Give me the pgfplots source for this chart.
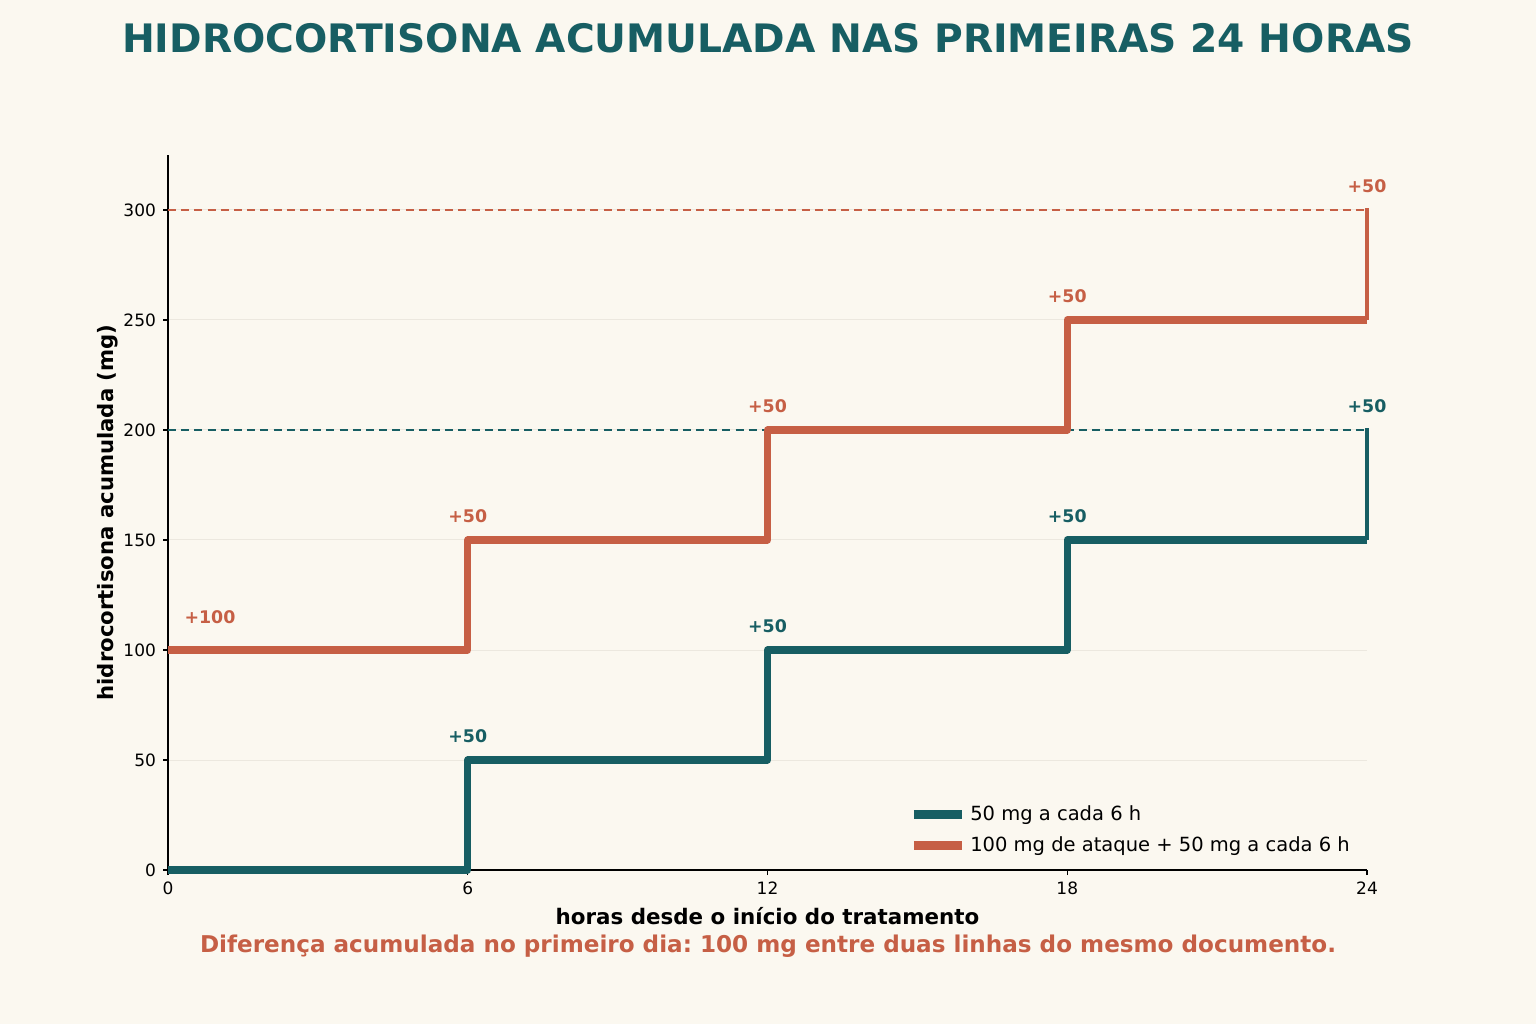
\documentclass[border=0pt]{standalone}
\usepackage{pgfplots}
\pgfplotsset{compat=1.18}
\usepackage{fontspec}
\setmainfont{DejaVu Sans}
\frenchspacing
\definecolor{bg}{HTML}{FBF8F0}
\definecolor{teal}{HTML}{175E63}
\definecolor{orng}{HTML}{C65F45}
\definecolor{gridc}{HTML}{ECE8DF}
\begin{document}
\begin{tikzpicture}[x=1pt,y=1pt]
\path[fill=bg] (0,0) rectangle (768,512);
\node[font=\fontsize{19.6}{24}\selectfont\bfseries, text=teal] at (384,493) {HIDROCORTISONA ACUMULADA NAS PRIMEIRAS 24 HORAS};
\begin{axis}[
  at={(84pt,77pt)}, anchor=south west,
  scale only axis, width=599.5pt, height=357.5pt,
  xmin=0, xmax=24, ymin=0, ymax=325,
  xtick={0,6,12,18,24}, ytick={0,50,100,150,200,250,300},
  axis x line*=bottom, axis y line*=left,
  axis line style={line width=0.6pt, black},
  tick align=outside, major tick length=2.5pt,
  tick style={line width=0.6pt, black},
  ymajorgrids, grid style={line width=0.5pt, gridc},
  /pgf/number format/assume math mode=true,
  ticklabel style={font=\fontsize{8.5}{10}\selectfont},
  xlabel={\bfseries horas desde o início do tratamento},
  ylabel={\bfseries hidrocortisona acumulada (mg)},
  xlabel style={font=\fontsize{10.7}{12}\selectfont, at={(0.5,0)}, anchor=north, yshift=-15pt},
  ylabel style={font=\fontsize{10.6}{12}\selectfont, yshift=-4pt},
  legend style={at={(0.986,0.01)}, anchor=south east, xshift=5pt, draw=none, fill=none,
    font=\fontsize{9.75}{11}\selectfont, row sep=2.5pt},
  legend cell align=left,
  clip=false,
]
\addplot[forget plot, teal, line width=1pt, dash pattern=on 4pt off 2.6pt] coordinates {(0,200) (24,200)};
\addplot[forget plot, orng, line width=1pt, dash pattern=on 4pt off 2.6pt] coordinates {(0,300) (24,300)};
\addplot[teal, line width=3.6pt, line join=round, const plot,
  legend image code/.code={\draw[line width=4.5pt] (0pt,0pt) -- (24pt,0pt);}]
  coordinates {(0,0) (6,50) (12,100) (18,150) (24,150)};
\addlegendentry{50 mg a cada 6 h}
\addplot[orng, line width=3.6pt, line join=round, const plot,
  legend image code/.code={\draw[line width=4.5pt] (0pt,0pt) -- (24pt,0pt);}]
  coordinates {(0,100) (6,150) (12,200) (18,250) (24,250)};
\addlegendentry{100 mg de ataque + 50 mg a cada 6 h}
\addplot[forget plot, teal, line width=1.6pt] coordinates {(24,150) (24,201)};
\addplot[forget plot, orng, line width=1.6pt] coordinates {(24,250) (24,301)};
\begin{scope}[font=\fontsize{8.7}{10}\selectfont\bfseries]
\node[text=orng] at (axis cs:0.84,115) {+100};
\node[text=orng] at (axis cs:6,161) {+50};
\node[text=orng] at (axis cs:12,211) {+50};
\node[text=orng] at (axis cs:18,261) {+50};
\node[text=orng] at (axis cs:24,311) {+50};
\node[text=teal] at (axis cs:6,61) {+50};
\node[text=teal] at (axis cs:12,111) {+50};
\node[text=teal] at (axis cs:18,161) {+50};
\node[text=teal] at (axis cs:24,211) {+50};
\end{scope}
\end{axis}
\node[font=\fontsize{11.55}{13}\selectfont\bfseries, text=orng] at (384,39) {Diferença acumulada no primeiro dia: 100 mg entre duas linhas do mesmo documento.};
\end{tikzpicture}
\end{document}
